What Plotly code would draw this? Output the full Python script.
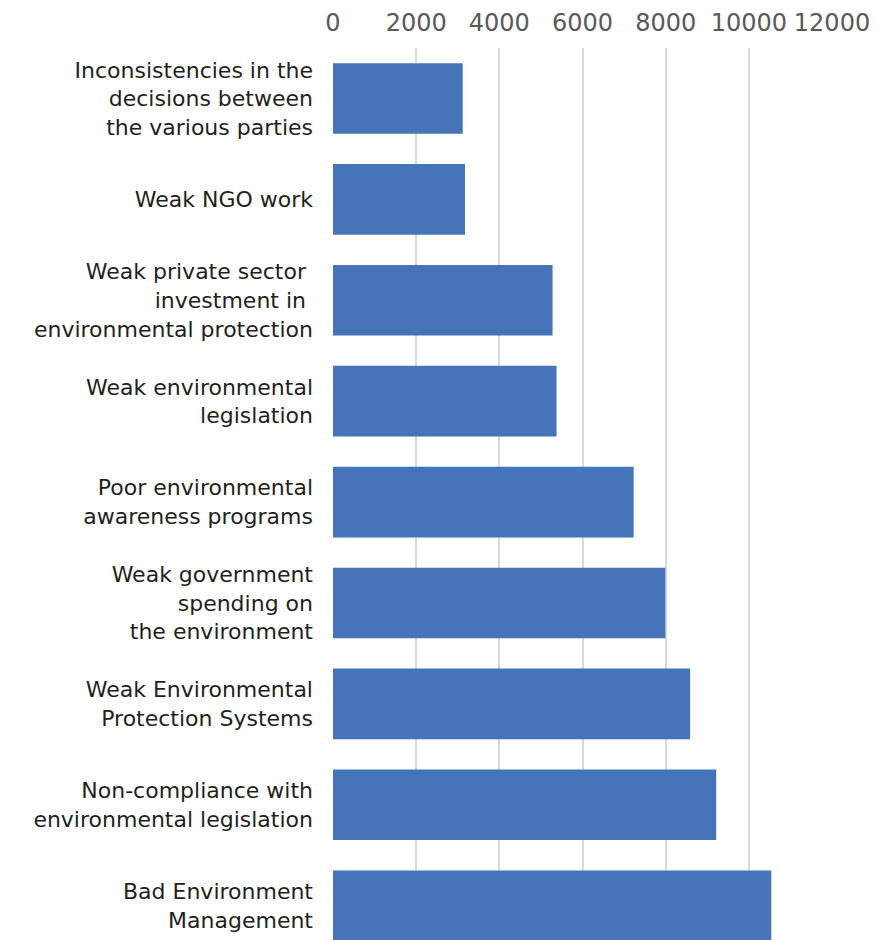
import plotly.graph_objects as go

categories = [
    "Inconsistencies in the<br>decisions between<br>the various parties",
    "Weak NGO work",
    "Weak private sector\u00a0<br>investment in\u00a0<br>environmental protection",
    "Weak environmental<br>legislation",
    "Poor environmental<br>awareness programs",
    "Weak government<br>spending on<br>the environment",
    "Weak Environmental<br>Protection Systems",
    "Non-compliance with<br>environmental legislation",
    "Bad Environment<br>Management",
]
values = [3120, 3175, 5280, 5376, 7231, 7992, 8588, 9215, 10540]
x_ticks = [0, 2000, 4000, 6000, 8000, 10000, 12000]

fig = go.Figure(
    go.Bar(
        x=values,
        y=categories,
        orientation="h",
        marker=dict(color="#4674b9", line=dict(width=0)),
        width=0.70,
    )
)

fig.update_layout(
    width=884,
    height=940,
    margin=dict(l=333, r=52, t=48, b=0),
    paper_bgcolor="white",
    plot_bgcolor="white",
    showlegend=False,
    font=dict(family="DejaVu Sans", color="#231f20"),
    xaxis=dict(
        side="top",
        range=[0, 12000],
        tickvals=x_ticks,
        ticktext=[str(v) for v in x_ticks],
        showgrid=True,
        gridcolor="#d9d9d9",
        gridwidth=1.5,
        zeroline=False,
        showline=False,
        ticks="",
        tickfont=dict(family="DejaVu Sans", size=24, color="#595959"),
        ticklabelstandoff=11,
    ),
    yaxis=dict(
        type="category",
        range=[8.34, -0.5],
        showgrid=False,
        zeroline=False,
        showline=False,
        ticks="",
        tickfont=dict(family="DejaVu Sans", size=22, color="#231f20"),
        ticklabelstandoff=19,
    ),
)

fig.write_html(
    "out.html",
    config={"displayModeBar": False},
    post_script="document.body.style.margin='0';document.body.style.overflow='hidden';",
)
